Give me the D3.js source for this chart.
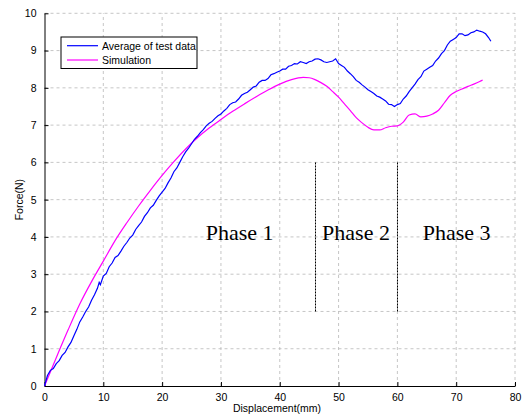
<!DOCTYPE html>
<html lang="en">
<head>
<meta charset="UTF-8">
<title>Force vs Displacement</title>
<script src="https://d3js.org/d3.v7.min.js"></script>
<style>
  body { margin: 0; background: #fff; }
  text { font-family: "Liberation Sans", Arial, sans-serif; }
</style>
</head>
<body>
<svg></svg>
<script>
// Tick values
const xTicks = [0, 10, 20, 30, 40, 50, 60, 70, 80];
const yTicks = [0, 1, 2, 3, 4, 5, 6, 7, 8, 9, 10];

// Average of test data: [displacement(mm), force(N)]
const testData = [
  [0,0],[0.5,0.28],[1,0.42],[1.5,0.47],[2,0.6],[2.5,0.68],[3,0.82],[3.5,0.9],
  [4,1.05],[4.5,1.17],[5,1.35],[5.5,1.52],[6,1.72],[6.5,1.85],[7,2.0],[7.5,2.12],
  [8,2.3],[8.5,2.45],[9,2.62],[9.3,2.78],[9.5,2.72],[10,2.95],[10.5,3.02],[11,3.2],[11.5,3.3],
  [12,3.45],[12.5,3.5],[13,3.62],[13.5,3.75],[14,3.85],[14.5,3.97],[15,4.05],[15.5,4.2],
  [16,4.3],[16.5,4.4],[17,4.55],[17.5,4.65],[18,4.78],[18.5,4.85],[19,4.98],[19.5,5.1],
  [20,5.2],[20.5,5.3],[21,5.45],[21.5,5.58],[22,5.75],[22.5,5.85],[23,6.0],[23.5,6.15],
  [24,6.28],[24.5,6.38],[25,6.5],[25.5,6.62],[26,6.7],[26.5,6.8],[27,6.88],[27.5,6.98],
  [28,7.05],[28.5,7.1],[29,7.18],[29.5,7.25],[30,7.3],[30.5,7.38],[31,7.45],[31.5,7.55],
  [32,7.6],[32.5,7.62],[33,7.7],[33.5,7.8],[34,7.85],[34.5,7.88],[35,7.95],[35.5,8.02],
  [36,8.05],[36.5,8.15],[37,8.2],[37.5,8.2],[38,8.25],[38.5,8.35],[39,8.38],[39.5,8.42],
  [40,8.45],[40.5,8.5],[41,8.5],[41.5,8.58],[42,8.6],[42.5,8.65],[43,8.64],[43.5,8.7],
  [44,8.68],[44.5,8.65],[45,8.7],[45.5,8.72],[46,8.77],[46.5,8.78],[47,8.75],[47.5,8.7],
  [48,8.68],[48.5,8.7],[49,8.72],[49.5,8.78],[50,8.65],[50.5,8.6],[51,8.55],[51.5,8.45],
  [52,8.38],[52.5,8.3],[53,8.2],[53.5,8.15],[54,8.08],[54.5,8.02],[55,7.95],[55.5,7.9],
  [56,7.85],[56.5,7.78],[57,7.75],[57.5,7.7],[58,7.65],[58.5,7.56],[59,7.55],[59.5,7.5],
  [60,7.55],[60.5,7.58],[61,7.7],[61.5,7.78],[62,7.9],[62.5,8.0],[63,8.1],[63.5,8.22],
  [64,8.3],[64.5,8.45],[65,8.5],[65.5,8.55],[66,8.6],[66.5,8.72],[67,8.8],[67.5,8.92],
  [68,9.0],[68.5,9.15],[69,9.25],[69.5,9.3],[70,9.35],[70.5,9.45],[71,9.45],[71.5,9.4],
  [72,9.42],[72.5,9.48],[73,9.5],[73.5,9.55],[74,9.52],[74.5,9.5],[75,9.45],[75.5,9.35],
  [75.9,9.25]
];

// Simulation: [displacement(mm), force(N)]
const simData = [
  [0,0],[2,0.76],[4,1.5],[6,2.2],[8,2.8],[10,3.35],[12,3.9],[14,4.38],[16,4.83],
  [18,5.25],[20,5.65],[22,6.02],[24,6.36],[26,6.66],[28,6.92],[30,7.15],[32,7.37],
  [34,7.57],[36,7.76],[38,7.94],[40,8.1],[42,8.22],[44,8.28],[45,8.27],[46,8.22],
  [47,8.14],[48,8.04],[49,7.9],[50,7.75],[51,7.57],[52,7.39],[53,7.2],[54,7.06],
  [55,6.94],[56,6.87],[57,6.87],[58,6.93],[59,6.97],[60,6.98],[61,7.08],[62,7.27],
  [63,7.3],[64,7.22],[65,7.24],[66,7.3],[67,7.4],[68,7.6],[69,7.8],[70,7.9],
  [71,7.97],[72,8.04],[73,8.1],[74,8.17],[74.5,8.21]
];

// Phase boundaries and labels
const phaseLines = [46, 60];
const phaseLineRange = [2, 6];
const phaseLabels = ["Phase 1", "Phase 2", "Phase 3"];
const phaseLabelX = [27.4, 47.2, 64.3];
const phaseLabelY = 3.93;

const legendNames = ["Average of test data", "Simulation"];
const colors = ["#0000ff", "#ff00ff"];

const W = 523, H = 417;
const svg = d3.select("svg").attr("width", W).attr("height", H);

const x = d3.scaleLinear().domain([0, 80]).range([44.5, 515]);
const y = d3.scaleLinear().domain([0, 10]).range([386, 13.3]);

// Grid lines
const grid = svg.append("g")
    .attr("stroke", "#b8b8b8")
    .attr("stroke-width", 0.8)
    .attr("stroke-dasharray", "3,3");
grid.selectAll(".gx").data(xTicks.slice(1)).enter().append("line")
    .attr("x1", d => x(d)).attr("x2", d => x(d))
    .attr("y1", y(0)).attr("y2", y(10));
grid.selectAll(".gy").data(yTicks.slice(1)).enter().append("line")
    .attr("x1", x(0)).attr("x2", x(80))
    .attr("y1", d => y(d)).attr("y2", d => y(d));

// Axes
const xAxis = svg.append("g")
    .attr("transform", `translate(0,${y(0)})`)
    .call(d3.axisBottom(x).tickValues(xTicks).tickSizeInner(-4).tickSizeOuter(0).tickPadding(8));
const yAxis = svg.append("g")
    .attr("transform", `translate(${x(0)},0)`)
    .call(d3.axisLeft(y).tickValues(yTicks).tickSizeInner(-4).tickSizeOuter(0).tickPadding(8));
[xAxis, yAxis].forEach(a => {
    a.select(".domain").attr("stroke", "#000");
    a.selectAll(".tick line").attr("stroke", "#000");
    a.selectAll("text").attr("fill", "#000").style("font-size", "10.5px")
        .style("font-family", "'Liberation Sans', Arial, sans-serif");
});

// Axis titles
svg.append("text")
    .attr("x", 277).attr("y", 412)
    .attr("text-anchor", "middle")
    .style("font-size", "10.5px")
    .text("Displacement(mm)");
svg.append("text")
    .attr("transform", `translate(23,${(y(0) + y(10)) / 2}) rotate(-90)`)
    .attr("text-anchor", "middle")
    .style("font-size", "10.5px")
    .text("Force(N)");

// Phase separators
svg.selectAll(".phase").data(phaseLines).enter().append("line")
    .attr("x1", d => Math.round(x(d)) + 0.5).attr("x2", d => Math.round(x(d)) + 0.5)
    .attr("y1", y(phaseLineRange[0])).attr("y2", y(phaseLineRange[1]))
    .attr("stroke", "#000")
    .attr("stroke-width", 1)
    .attr("stroke-dasharray", "2,1");

svg.selectAll(".plabel").data(phaseLabels).enter().append("text")
    .attr("x", (d, i) => x(phaseLabelX[i]))
    .attr("y", y(phaseLabelY))
    .style("font-family", "'Liberation Serif', 'Times New Roman', serif")
    .style("font-size", "22px")
    .text(d => d);

// Curves
svg.append("path").datum(simData)
    .attr("d", d3.line().x(d => x(d[0])).y(d => y(d[1])).curve(d3.curveMonotoneX))
    .attr("fill", "none").attr("stroke", colors[1]).attr("stroke-width", 1.2);
svg.append("path").datum(testData)
    .attr("d", d3.line().x(d => x(d[0])).y(d => y(d[1])))
    .attr("fill", "none").attr("stroke", colors[0]).attr("stroke-width", 1.2);

// Legend
const lg = svg.append("g");
lg.append("rect")
    .attr("x", 61).attr("y", 37).attr("width", 136).attr("height", 31.5)
    .attr("fill", "#fff").attr("stroke", "#000").attr("stroke-width", 1);
legendNames.forEach((n, i) => {
    const ly = 45.7 + i * 14.3;
    lg.append("line")
        .attr("x1", 67).attr("x2", 98).attr("y1", ly).attr("y2", ly)
        .attr("stroke", colors[i]).attr("stroke-width", 1.2);
    lg.append("text")
        .attr("x", 102).attr("y", ly + 3.8)
        .style("font-size", "10.5px")
        .text(n);
});
</script>
</body>
</html>
